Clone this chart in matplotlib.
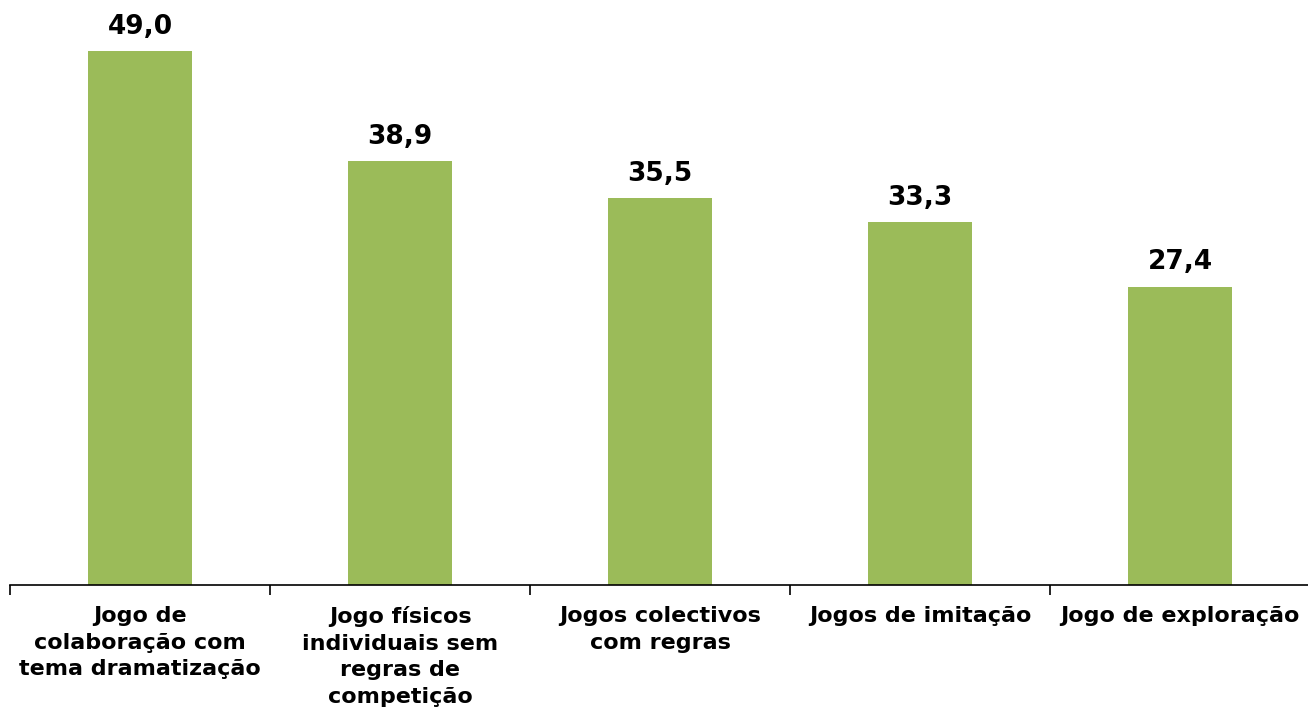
import matplotlib.pyplot as plt
import numpy as np

plt.rcParams['font.family'] = ['DejaVu Sans']
plt.rcParams['font.weight'] = 'bold'

categorias = [
    'Jogo de\ncolaboração com\ntema dramatização',
    'Jogo físicos\nindividuais sem\nregras de\ncompetição',
    'Jogos colectivos\ncom regras',
    'Jogos de imitação',
    'Jogo de exploração',
]
valores = [49.0, 38.9, 35.5, 33.3, 27.4]

fig = plt.figure(figsize=(13.08, 7.16), dpi=100)
ax = fig.add_axes([10 / 1308, 131 / 716, 1300 / 1308, 585 / 716])

x = np.arange(len(categorias))
barras = ax.bar(x, valores, width=0.4, color='#9BBB59')

for b, v in zip(barras, valores):
    ax.text(b.get_x() + b.get_width() / 2, v + 1.05, f'{v:.1f}'.replace('.', ','),
            ha='center', va='bottom', fontsize=19, fontweight='bold')

ax.set_xlim(-0.5, len(categorias) - 0.5)
ax.set_ylim(0, 53.7)
ax.set_xticks(x)
ax.set_xticklabels(categorias, fontsize=16, fontweight='bold', linespacing=1.42)
ax.set_xticks(np.arange(len(categorias) + 1) - 0.5, minor=True)
ax.tick_params(axis='x', which='major', length=0, pad=15)
ax.tick_params(axis='x', which='minor', length=7, width=1.2, direction='out')
ax.set_yticks([])
for s in ['top', 'right', 'left']:
    ax.spines[s].set_visible(False)
ax.spines['bottom'].set_linewidth(1.2)

fig.savefig('out.png', dpi=100)
